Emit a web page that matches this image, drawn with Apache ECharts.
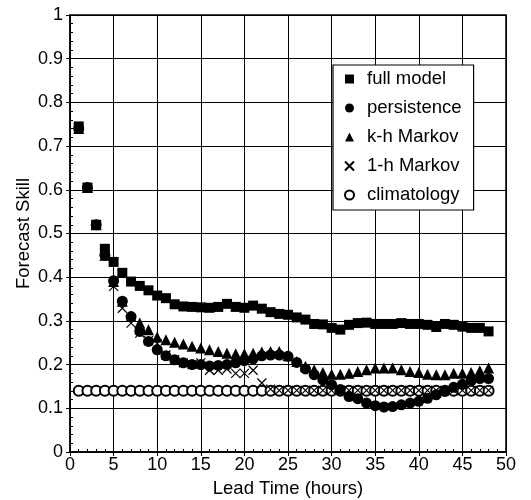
<!DOCTYPE html>
<html>
<head>
<meta charset="utf-8">
<script src="https://cdn.jsdelivr.net/npm/echarts@6/dist/echarts.min.js"></script>
<style>html,body{margin:0;padding:0;background:#fff}#c{width:531px;height:500px}</style>
</head>
<body>
<div id="c"></div>
<script>
const leadTime = [1,2,3,4,5,6,7,8,9,10,11,12,13,14,15,16,17,18,19,20,21,22,23,24,25,26,27,28,29,30,31,32,33,34,35,36,37,38,39,40,41,42,43,44,45,46,47,48];
const fullModel = [0.745,0.605,0.52,0.465,0.435,0.41,0.39,0.38,0.37,0.358,0.352,0.338,0.333,0.332,0.331,0.33,0.332,0.339,0.332,0.33,0.335,0.328,0.32,0.316,0.314,0.308,0.303,0.293,0.292,0.284,0.28,0.291,0.295,0.296,0.293,0.293,0.293,0.295,0.293,0.293,0.291,0.286,0.293,0.291,0.287,0.284,0.284,0.276];
const persistence = [0.74,0.605,0.52,0.45,0.392,0.345,0.31,0.276,0.253,0.234,0.22,0.211,0.204,0.2,0.2,0.197,0.198,0.2,0.204,0.209,0.213,0.22,0.222,0.222,0.219,0.205,0.19,0.177,0.165,0.154,0.143,0.127,0.122,0.112,0.106,0.103,0.104,0.108,0.112,0.116,0.123,0.131,0.139,0.148,0.155,0.163,0.168,0.168];
const khMarkov = [0.74,0.605,0.52,0.45,0.39,0.345,0.31,0.295,0.28,0.263,0.257,0.251,0.247,0.242,0.238,0.234,0.23,0.226,0.225,0.225,0.226,0.229,0.23,0.23,0.22,0.207,0.196,0.188,0.182,0.178,0.178,0.18,0.184,0.188,0.192,0.192,0.192,0.188,0.184,0.182,0.178,0.177,0.177,0.18,0.18,0.182,0.186,0.192];
const oneHMarkov = [0.74,0.605,0.52,0.45,0.379,0.329,0.295,0.272,0.255,0.248,0.222,0.211,0.204,0.2,0.204,0.187,0.187,0.19,0.18,0.18,0.187,0.158,0.144,0.141,0.141,0.141,0.141,0.141,0.141,0.141,0.141,0.141,0.141,0.141,0.141,0.141,0.141,0.141,0.141,0.141,0.141,0.141,0.141,0.141,0.141,0.141,0.141,0.141];
const climatology = [0.14,0.14,0.14,0.14,0.14,0.14,0.14,0.14,0.14,0.14,0.14,0.14,0.14,0.14,0.14,0.14,0.14,0.14,0.14,0.14,0.14,0.14,0.14,0.14,0.14,0.14,0.14,0.14,0.14,0.14,0.14,0.14,0.14,0.14,0.14,0.14,0.14,0.14,0.14,0.14,0.14,0.14,0.14,0.14,0.14,0.14,0.14,0.14];
const seriesNames = ['full model','persistence','k-h Markov','1-h Markov','climatology'];

const FONT = 'Liberation Sans';
const pts = arr => leadTime.map((t, i) => [t, arr[i]]);
const crossPath = 'path://M0,0L10,10M10,0L0,10';

const chart = echarts.init(document.getElementById('c'), null, {renderer: 'canvas'});
const axisCommonX = {min: 0, max: 50, interval: 5};
const axisCommonY = {min: 0, max: 1, interval: 0.1};
chart.setOption({
  animation: false,
  backgroundColor: '#fff',
  grid: {left: 70, right: 25, top: 15, bottom: 48, containLabel: false, outerBoundsMode: 'none',
    show: true, borderColor: '#000', borderWidth: 1.5, backgroundColor: 'transparent'},
  legend: {
    orient: 'vertical', left: 333, top: 65,
    data: seriesNames,
    itemWidth: 9, itemHeight: 9, itemGap: 9,
    padding: [4, 12, 5, 11],
    borderColor: '#000', borderWidth: 1.2, backgroundColor: '#fff',
    textStyle: {fontFamily: FONT, fontSize: 18.5, color: '#000', lineHeight: 20, padding: [0, 0, 0, 8]}
  },
  xAxis: [
    Object.assign({type: 'value', position: 'bottom',
      name: 'Lead Time (hours)', nameLocation: 'middle', nameGap: 27, nameMoveOverlap: false,
      nameTextStyle: {fontFamily: FONT, fontSize: 18.5, color: '#000'},
      axisLine: {show: true, onZero: false, lineStyle: {color: '#000', width: 1.5}},
      axisTick: {show: true, inside: false, length: 4, lineStyle: {color: '#000'}},
      axisLabel: {fontFamily: FONT, fontSize: 18, color: '#000', margin: 4},
      splitLine: {show: true, lineStyle: {color: '#000', width: 1}}
    }, axisCommonX),
    Object.assign({type: 'value', position: 'bottom',
      axisLine: {show: false}, axisLabel: {show: false}, splitLine: {show: false},
      axisTick: {show: true, inside: true, length: 3, lineStyle: {color: '#000'}},
      minorTick: {show: true, splitNumber: 5, length: 3, lineStyle: {color: '#000'}}
    }, axisCommonX)
  ],
  yAxis: [
    Object.assign({type: 'value', position: 'left',
      name: 'Forecast Skill', nameLocation: 'middle', nameGap: 37, nameRotate: 90, nameMoveOverlap: false,
      nameTextStyle: {fontFamily: FONT, fontSize: 18.5, color: '#000'},
      axisLine: {show: true, onZero: false, lineStyle: {color: '#000', width: 1.5}},
      axisTick: {show: true, inside: false, length: 4, lineStyle: {color: '#000'}},
      axisLabel: {fontFamily: FONT, fontSize: 18, color: '#000', margin: 7},
      splitLine: {show: true, lineStyle: {color: '#000', width: 1}}
    }, axisCommonY),
    Object.assign({type: 'value', position: 'left',
      axisLine: {show: false}, axisLabel: {show: false}, splitLine: {show: false},
      axisTick: {show: true, inside: true, length: 3, lineStyle: {color: '#000'}},
      minorTick: {show: true, splitNumber: 5, length: 3, lineStyle: {color: '#000'}}
    }, axisCommonY)
  ],
  series: [
    {name: 'climatology', type: 'scatter', data: pts(climatology), symbol: 'emptyCircle', symbolSize: 10, z: 2,
      itemStyle: {color: '#000', borderWidth: 1, opacity: 1}},
    {name: '1-h Markov', type: 'scatter', data: pts(oneHMarkov), symbol: crossPath, symbolSize: 9, z: 3,
      itemStyle: {color: 'transparent', borderColor: '#000', borderWidth: 1.2, opacity: 1}},
    {name: 'k-h Markov', type: 'scatter', data: pts(khMarkov), symbol: 'triangle', symbolSize: 11, z: 4,
      itemStyle: {color: '#000', opacity: 1}},
    {name: 'persistence', type: 'scatter', data: pts(persistence), symbol: 'circle', symbolSize: 11, z: 5,
      itemStyle: {color: '#000', opacity: 1}},
    {name: 'full model', type: 'scatter', data: pts(fullModel), symbol: 'rect', symbolSize: 10, z: 6,
      itemStyle: {color: '#000', opacity: 1}}
  ]
});
</script>
</body>
</html>
